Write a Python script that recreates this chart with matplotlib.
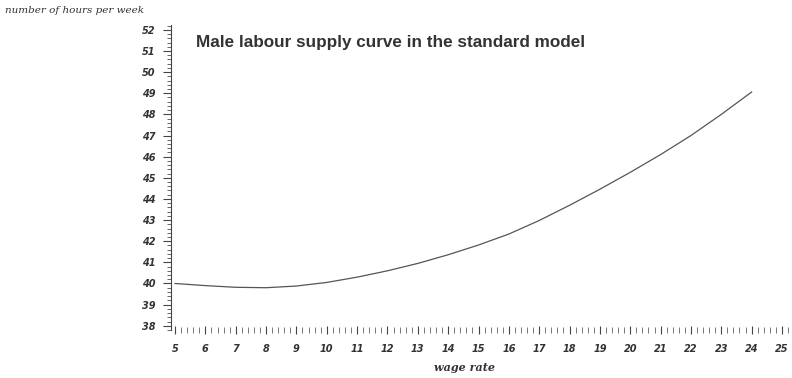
import matplotlib
matplotlib.use('Agg')
import matplotlib.pyplot as plt
from matplotlib.ticker import MultipleLocator

# wage rate vs hours per week
wage = [5, 6, 7, 8, 9, 10, 11, 12, 13, 14, 15, 16, 17, 18, 19, 20, 21, 22, 23, 24]
hours = [40.00, 39.90, 39.82, 39.80, 39.88, 40.05, 40.30, 40.60, 40.95, 41.36,
         41.82, 42.34, 42.98, 43.70, 44.46, 45.26, 46.10, 47.00, 48.00, 49.06]

x_ticks = list(range(5, 26))
y_ticks = list(range(38, 53))

fig = plt.figure(figsize=(7.92, 3.78), dpi=100)
ax = fig.add_axes([0.216, 0.127, 0.784, 0.808])

# --- curve ---
ax.plot(wage, hours, color='#555555', lw=0.9)

ax.set_xlim(4.87, 25.33)
ax.set_ylim(37.8, 52.25)

# --- axes look ---
for s in ['top', 'right', 'bottom']:
    ax.spines[s].set_visible(False)
ax.spines['left'].set_color('#444444')
ax.spines['left'].set_linewidth(0.8)

ax.set_xticks(x_ticks)
ax.set_yticks(y_ticks)
ax.xaxis.set_minor_locator(MultipleLocator(0.2))
ax.yaxis.set_minor_locator(MultipleLocator(0.2))

ax.tick_params(axis='y', which='major', direction='out', length=6, width=0.8,
               color='#444444', pad=5)
ax.tick_params(axis='y', which='minor', direction='out', length=3, width=0.7,
               color='#666666')
ax.tick_params(axis='x', which='major', direction='inout', length=6, width=0.8,
               color='#444444', pad=7)
ax.tick_params(axis='x', which='minor', direction='inout', length=4, width=0.7,
               color='#777777')

for lab in ax.get_xticklabels() + ax.get_yticklabels():
    lab.set_fontsize(7)
    lab.set_fontweight('bold')
    lab.set_fontstyle('italic')
    lab.set_color('#333333')

# --- texts ---
ax.text(0.04, 0.94, 'Male labour supply curve in the standard model',
        transform=ax.transAxes, fontsize=12.3, fontweight='bold',
        family='Liberation Sans', color='#333333', va='center', ha='left')

fig.text(0.006, 0.972, 'number of hours per week', fontsize=7.5,
         family='DejaVu Serif', style='italic', color='#333333',
         ha='left', va='center')
fig.text(0.587, 0.027, 'wage rate', fontsize=8, family='DejaVu Serif',
         style='italic', fontweight='bold', color='#333333',
         ha='center', va='center')

fig.savefig('out.png', dpi=100)
